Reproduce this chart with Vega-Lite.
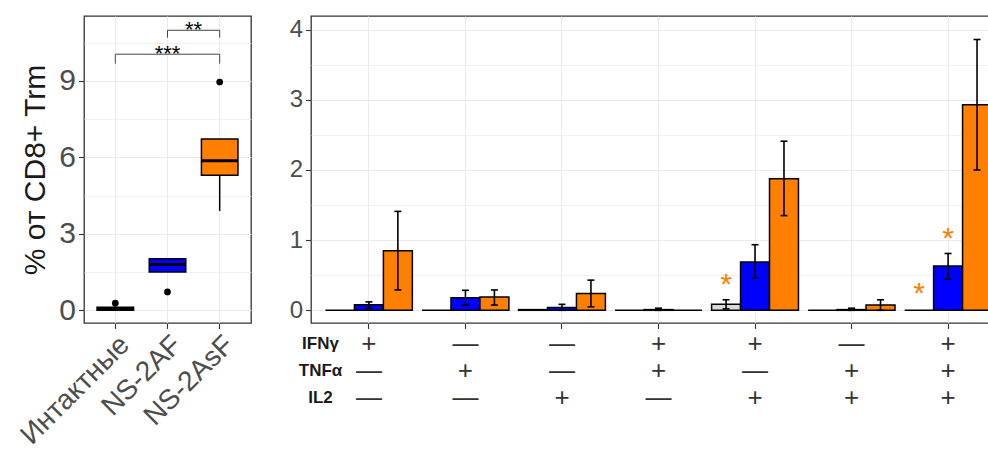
{
  "$schema": "https://vega.github.io/schema/vega-lite/v6.json",
  "padding": {"left": 15, "top": 15, "right": 0, "bottom": 0},
  "background": "white",
  "config": {
    "font": "Liberation Sans",
    "view": {"stroke": "#333333", "strokeWidth": 1.3},
    "axis": {"domain": false, "gridColor": "#EBEBEB", "gridWidth": 1, "tickColor": "#333333", "tickSize": 5.5, "tickWidth": 1.1, "labelColor": "#4D4D4D", "labelPadding": 3, "titleColor": "#1A1A1A", "titleFontWeight": "normal", "labelFont": "Liberation Sans", "titleFont": "Liberation Sans"}
  },
  "datasets": {
    "boxes": [
      {"group": "Интактные", "lower": 0.0, "q1": 0.0, "median": 0.06, "q3": 0.12, "upper": 0.15},
      {"group": "NS-2AF", "lower": 1.5, "q1": 1.5, "median": 1.8, "q3": 2.02, "upper": 2.02},
      {"group": "NS-2AsF", "lower": 3.9, "q1": 5.3, "median": 5.87, "q3": 6.72, "upper": 6.72}
    ],
    "outliers": [
      {"group": "Интактные", "value": 0.28},
      {"group": "NS-2AF", "value": 0.72},
      {"group": "NS-2AsF", "value": 8.96}
    ],
    "brackets": [
      {"from": "Интактные", "to": "NS-2AsF", "mid": "NS-2AF", "y": 10.05, "leg": 9.68, "label": "***"},
      {"from": "NS-2AF", "to": "NS-2AsF", "mid": "NS-2AF", "y": 10.99, "leg": 10.7, "label": "**"}
    ],
    "bars": [
      {"combo": "IFNγ+ TNFα− IL2−", "group": "Интактные", "value": 0, "lo": null, "hi": null},
      {"combo": "IFNγ+ TNFα− IL2−", "group": "NS-2AF", "value": 0.08, "lo": 0.03, "hi": 0.12},
      {"combo": "IFNγ+ TNFα− IL2−", "group": "NS-2AsF", "value": 0.85, "lo": 0.29, "hi": 1.41},
      {"combo": "IFNγ− TNFα+ IL2−", "group": "Интактные", "value": 0, "lo": null, "hi": null},
      {"combo": "IFNγ− TNFα+ IL2−", "group": "NS-2AF", "value": 0.18, "lo": 0.075, "hi": 0.285},
      {"combo": "IFNγ− TNFα+ IL2−", "group": "NS-2AsF", "value": 0.19, "lo": 0.075, "hi": 0.29},
      {"combo": "IFNγ− TNFα− IL2+", "group": "Интактные", "value": 0.01, "lo": null, "hi": null},
      {"combo": "IFNγ− TNFα− IL2+", "group": "NS-2AF", "value": 0.04, "lo": 0.0, "hi": 0.085},
      {"combo": "IFNγ− TNFα− IL2+", "group": "NS-2AsF", "value": 0.24, "lo": 0.05, "hi": 0.43},
      {"combo": "IFNγ+ TNFα+ IL2−", "group": "Интактные", "value": 0, "lo": null, "hi": null},
      {"combo": "IFNγ+ TNFα+ IL2−", "group": "NS-2AF", "value": 0.01, "lo": 0.0, "hi": 0.03},
      {"combo": "IFNγ+ TNFα+ IL2−", "group": "NS-2AsF", "value": 0, "lo": null, "hi": null},
      {"combo": "IFNγ+ TNFα− IL2+", "group": "Интактные", "value": 0.085, "lo": 0.02, "hi": 0.15},
      {"combo": "IFNγ+ TNFα− IL2+", "group": "NS-2AF", "value": 0.69, "lo": 0.46, "hi": 0.935},
      {"combo": "IFNγ+ TNFα− IL2+", "group": "NS-2AsF", "value": 1.876, "lo": 1.35, "hi": 2.41},
      {"combo": "IFNγ− TNFα+ IL2+", "group": "Интактные", "value": 0, "lo": null, "hi": null},
      {"combo": "IFNγ− TNFα+ IL2+", "group": "NS-2AF", "value": 0.01, "lo": 0.0, "hi": 0.03},
      {"combo": "IFNγ− TNFα+ IL2+", "group": "NS-2AsF", "value": 0.075, "lo": 0.0, "hi": 0.15},
      {"combo": "IFNγ+ TNFα+ IL2+", "group": "Интактные", "value": 0, "lo": null, "hi": null},
      {"combo": "IFNγ+ TNFα+ IL2+", "group": "NS-2AF", "value": 0.63, "lo": 0.445, "hi": 0.81},
      {"combo": "IFNγ+ TNFα+ IL2+", "group": "NS-2AsF", "value": 2.93, "lo": 2.0, "hi": 3.86}
    ],
    "stars": [
      {"combo": "IFNγ+ TNFα− IL2+", "group": "Интактные", "y": 0.4},
      {"combo": "IFNγ+ TNFα+ IL2+", "group": "Интактные", "y": 0.27},
      {"combo": "IFNγ+ TNFα+ IL2+", "group": "NS-2AF", "y": 1.06}
    ],
    "table": [
      {"combo": "IFNγ+ TNFα− IL2−", "cytokine": "IFNγ", "sign": "+"},
      {"combo": "IFNγ+ TNFα− IL2−", "cytokine": "TNFα", "sign": "—"},
      {"combo": "IFNγ+ TNFα− IL2−", "cytokine": "IL2", "sign": "—"},
      {"combo": "IFNγ− TNFα+ IL2−", "cytokine": "IFNγ", "sign": "—"},
      {"combo": "IFNγ− TNFα+ IL2−", "cytokine": "TNFα", "sign": "+"},
      {"combo": "IFNγ− TNFα+ IL2−", "cytokine": "IL2", "sign": "—"},
      {"combo": "IFNγ− TNFα− IL2+", "cytokine": "IFNγ", "sign": "—"},
      {"combo": "IFNγ− TNFα− IL2+", "cytokine": "TNFα", "sign": "—"},
      {"combo": "IFNγ− TNFα− IL2+", "cytokine": "IL2", "sign": "+"},
      {"combo": "IFNγ+ TNFα+ IL2−", "cytokine": "IFNγ", "sign": "+"},
      {"combo": "IFNγ+ TNFα+ IL2−", "cytokine": "TNFα", "sign": "+"},
      {"combo": "IFNγ+ TNFα+ IL2−", "cytokine": "IL2", "sign": "—"},
      {"combo": "IFNγ+ TNFα− IL2+", "cytokine": "IFNγ", "sign": "+"},
      {"combo": "IFNγ+ TNFα− IL2+", "cytokine": "TNFα", "sign": "—"},
      {"combo": "IFNγ+ TNFα− IL2+", "cytokine": "IL2", "sign": "+"},
      {"combo": "IFNγ− TNFα+ IL2+", "cytokine": "IFNγ", "sign": "—"},
      {"combo": "IFNγ− TNFα+ IL2+", "cytokine": "TNFα", "sign": "+"},
      {"combo": "IFNγ− TNFα+ IL2+", "cytokine": "IL2", "sign": "+"},
      {"combo": "IFNγ+ TNFα+ IL2+", "cytokine": "IFNγ", "sign": "+"},
      {"combo": "IFNγ+ TNFα+ IL2+", "cytokine": "TNFα", "sign": "+"},
      {"combo": "IFNγ+ TNFα+ IL2+", "cytokine": "IL2", "sign": "+"}
    ]
  },
  "spacing": 36,
  "hconcat": [
    {
      "width": 167,
      "height": 307,
      "encoding": {
        "x": {"field": "group", "type": "nominal",
          "scale": {"type": "band", "domain": ["Интактные", "NS-2AF", "NS-2AsF"], "paddingInner": 0, "paddingOuter": 0.1},
          "axis": {"title": null, "labelAngle": -45, "labelAlign": "right", "labelBaseline": "top", "labelFontSize": 28, "grid": true, "bandPosition": 0.5, "labelPadding": 2}}
      },
      "layer": [
        {
          "data": {"name": "outliers"},
          "mark": {"type": "point", "opacity": 0},
          "encoding": {
            "y": {"field": "value", "type": "quantitative",
              "scale": {"domain": [-0.5, 11.55], "nice": false, "zero": false},
              "axis": {"orient": "left", "values": [1.5, 4.5, 7.5, 10.5], "labels": false, "ticks": false, "title": null, "grid": true, "gridWidth": 0.7}}
          }
        },
        {
          "data": {"name": "boxes"},
          "mark": {"type": "rule", "color": "#000000", "strokeWidth": 1.5},
          "encoding": {
            "y": {"field": "lower", "type": "quantitative",
              "axis": {"orient": "left", "values": [0, 3, 6, 9], "title": "% от CD8+ Trm", "titleFontSize": 30, "labelFontSize": 30, "grid": true, "titlePadding": 8}},
            "y2": {"field": "upper"}
          }
        },
        {
          "data": {"name": "boxes"},
          "mark": {"type": "bar", "stroke": "#000000", "strokeWidth": 1.5, "width": {"band": 0.7}},
          "encoding": {
            "y": {"field": "q1", "type": "quantitative", "axis": null},
            "y2": {"field": "q3"},
            "color": {"field": "group", "type": "nominal", "scale": {"domain": ["Интактные", "NS-2AF", "NS-2AsF"], "range": ["#D9D9D9", "#0000FF", "#FF8000"]}, "legend": null}
          }
        },
        {
          "data": {"name": "boxes"},
          "mark": {"type": "tick", "color": "#000000", "thickness": 3, "size": 36.5, "opacity": 1},
          "encoding": {"y": {"field": "median", "type": "quantitative", "axis": null}}
        },
        {
          "data": {"name": "outliers"},
          "mark": {"type": "point", "filled": true, "color": "#000000", "size": 45, "opacity": 1},
          "encoding": {"y": {"field": "value", "type": "quantitative", "axis": null}}
        },
        {
          "data": {"name": "brackets"},
          "mark": {"type": "rule", "color": "#444444", "strokeWidth": 1},
          "encoding": {
            "x": {"field": "from", "type": "nominal"},
            "x2": {"field": "to"},
            "y": {"field": "y", "type": "quantitative", "axis": null}
          }
        },
        {
          "data": {"name": "brackets"},
          "mark": {"type": "rule", "color": "#444444", "strokeWidth": 1},
          "encoding": {
            "x": {"field": "from", "type": "nominal"},
            "y": {"field": "leg", "type": "quantitative", "axis": null},
            "y2": {"field": "y"}
          }
        },
        {
          "data": {"name": "brackets"},
          "mark": {"type": "rule", "color": "#444444", "strokeWidth": 1},
          "encoding": {
            "x": {"field": "to", "type": "nominal"},
            "y": {"field": "leg", "type": "quantitative", "axis": null},
            "y2": {"field": "y"}
          }
        },
        {
          "data": {"name": "brackets"},
          "transform": [{"filter": "datum.label == '***'"}],
          "mark": {"type": "text", "fontSize": 22, "baseline": "middle", "color": "#000000", "dy": 0},
          "encoding": {
            "x": {"field": "mid", "type": "nominal"},
            "y": {"field": "y", "type": "quantitative", "axis": null},
            "text": {"field": "label"}
          }
        },
        {
          "data": {"name": "brackets"},
          "transform": [{"filter": "datum.label == '**'"}],
          "mark": {"type": "text", "fontSize": 22, "baseline": "middle", "color": "#000000", "dy": 0},
          "encoding": {
            "x": {"field": "from", "type": "nominal", "bandPosition": 1},
            "y": {"field": "y", "type": "quantitative", "axis": null},
            "text": {"field": "label"}
          }
        }
      ],
      "resolve": {"axis": {"y": "independent"}}
    },
    {
      "spacing": 0,
      "vconcat": [
        {
          "width": 695,
          "height": 307,
          "data": {"name": "bars"},
          "encoding": {
            "x": {"field": "combo", "type": "nominal",
              "scale": {"type": "band", "domain": ["IFNγ+ TNFα− IL2−", "IFNγ− TNFα+ IL2−", "IFNγ− TNFα− IL2+", "IFNγ+ TNFα+ IL2−", "IFNγ+ TNFα− IL2+", "IFNγ− TNFα+ IL2+", "IFNγ+ TNFα+ IL2+"], "paddingInner": 0.1, "paddingOuter": 0.15},
              "axis": {"title": null, "labels": false, "grid": true, "bandPosition": 0.5}},
            "xOffset": {"field": "group", "type": "nominal", "scale": {"domain": ["Интактные", "NS-2AF", "NS-2AsF"], "paddingInner": 0, "paddingOuter": 0}}
          },
          "layer": [
            {
              "mark": {"type": "point", "opacity": 0},
              "encoding": {
                "y": {"field": "value", "type": "quantitative",
                  "scale": {"domain": [-0.181, 4.195], "nice": false, "zero": false},
                  "axis": {"orient": "left", "values": [0.5, 1.5, 2.5, 3.5], "labels": false, "ticks": false, "title": null, "grid": true, "gridWidth": 0.7}}
              }
            },
            {
              "mark": {"type": "bar", "stroke": "#000000", "strokeWidth": 1.5},
              "encoding": {
                "y": {"field": "value", "type": "quantitative",
                  "axis": {"orient": "left", "values": [0, 1, 2, 3, 4], "title": null, "labelFontSize": 24, "grid": true}},
                "color": {"field": "group", "type": "nominal", "scale": {"domain": ["Интактные", "NS-2AF", "NS-2AsF"], "range": ["#D9D9D9", "#0000FF", "#FF8000"]}, "legend": null}
              }
            },
            {
              "transform": [{"filter": "datum.hi != null"}],
              "mark": {"type": "rule", "color": "#000000", "strokeWidth": 1.6},
              "encoding": {
                "y": {"field": "lo", "type": "quantitative", "axis": null},
                "y2": {"field": "hi"}
              }
            },
            {
              "transform": [{"filter": "datum.hi != null"}],
              "mark": {"type": "tick", "color": "#000000", "thickness": 1.6, "size": 7, "opacity": 1},
              "encoding": {"y": {"field": "hi", "type": "quantitative", "axis": null}}
            },
            {
              "transform": [{"filter": "datum.hi != null"}],
              "mark": {"type": "tick", "color": "#000000", "thickness": 1.6, "size": 7, "opacity": 1},
              "encoding": {"y": {"field": "lo", "type": "quantitative", "axis": null}}
            },
            {
              "data": {"name": "stars"},
              "mark": {"type": "text", "fontSize": 30, "color": "#FF8000", "baseline": "middle", "dy": 3, "text": "*"},
              "encoding": {"y": {"field": "y", "type": "quantitative", "axis": null}}
            }
          ],
          "resolve": {"axis": {"y": "independent"}}
        },
        {
          "width": 695,
          "height": 81,
          "data": {"name": "table"},
          "view": {"stroke": null},
          "mark": {"type": "text", "fontSize": 26, "color": "#333333", "baseline": "middle"},
          "encoding": {
            "x": {"field": "combo", "type": "nominal",
              "scale": {"type": "band", "domain": ["IFNγ+ TNFα− IL2−", "IFNγ− TNFα+ IL2−", "IFNγ− TNFα− IL2+", "IFNγ+ TNFα+ IL2−", "IFNγ+ TNFα− IL2+", "IFNγ− TNFα+ IL2+", "IFNγ+ TNFα+ IL2+"], "paddingInner": 0.1, "paddingOuter": 0.15},
              "axis": null},
            "y": {"field": "cytokine", "type": "nominal",
              "scale": {"type": "point", "domain": ["IFNγ", "TNFα", "IL2"], "padding": 0.5},
              "axis": {"title": null, "ticks": false, "tickSize": 0, "grid": false, "labelPadding": -9, "labelAlign": "center", "labelFontSize": 17, "labelFontWeight": "bold", "labelColor": "#1A1A1A"}},
            "text": {"field": "sign"}
          }
        }
      ]
    }
  ]
}
